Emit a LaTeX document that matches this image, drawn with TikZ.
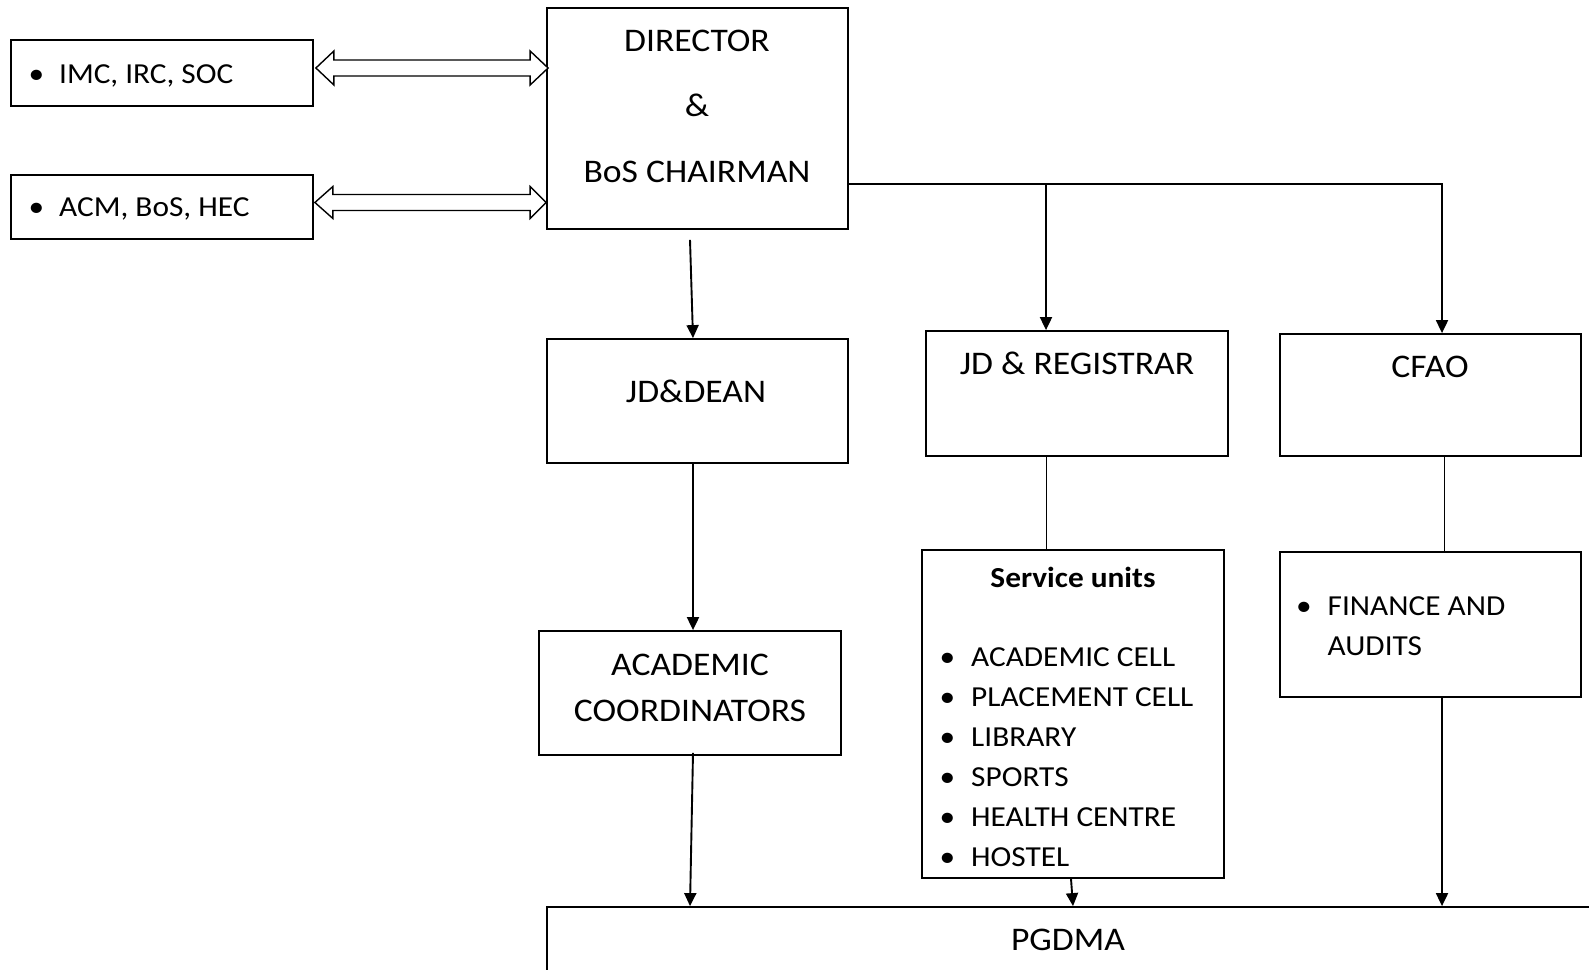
\documentclass[tikz,border=0pt]{standalone}
\usepackage{fontspec}
\setmainfont[FakeStretch=1.08]{Carlito}
\usetikzlibrary{arrows.meta,calc}
\begin{document}
\begin{tikzpicture}[x=1pt,y=-1pt,
  box/.style={draw, line width=1.8pt, rectangle, inner sep=0pt},
  ttl/.style={inner sep=0pt, anchor=base, font=\fontsize{33}{40}\selectfont},
  itm/.style={inner sep=0pt, anchor=base west, font=\fontsize{29}{35}\selectfont},
  bul/.style={inner sep=0pt, anchor=base, font=\fontsize{29}{35}\selectfont},
  conn/.style={line width=1.9pt, -{Triangle[length=13pt,width=12pt]}},
  link/.style={line width=1.9pt},
  thin/.style={line width=0.9pt},
  hollow/.style={draw, line width=1.4pt, fill=white, line join=miter}]
\clip (0,0) rectangle (1589,969);
\fill[white] (0,0) rectangle (1589,969);

% boxes
\node[box, minimum width=302, minimum height=66] (imc) at (162,73) {};
\node[box, minimum width=302, minimum height=64] (acm) at (162,207) {};
\node[box, minimum width=301, minimum height=221] (dir) at (697.5,118.5) {};
\node[box, minimum width=301, minimum height=124] (dean) at (697.5,401) {};
\node[box, minimum width=302, minimum height=124] (acad) at (690,693) {};
\node[box, minimum width=302, minimum height=125] (reg) at (1077,393.5) {};
\node[box, minimum width=301, minimum height=122] (cfao) at (1430.5,395) {};
\node[box, minimum width=302, minimum height=328] (serv) at (1073,714) {};
\node[box, minimum width=301, minimum height=145] (fin) at (1430.5,624.5) {};
\node[box, minimum width=1153, minimum height=143] (pgdma) at (1123.5,978.5) {};

% texts
\node[bul] (b1) at (36.5,83) {\textbullet};
\node[itm] (t1) at (59,83) {IMC, IRC, SOC};
\node[bul] (b2) at (36.5,216) {\textbullet};
\node[itm] (t2) at (59,216) {ACM, BoS, HEC};
\node[ttl] (d1) at (697,51) {DIRECTOR};
\node[ttl] (d2) at (697,116) {\&};
\node[ttl] (d3) at (697,182) {BoS CHAIRMAN};
\node[ttl] (dn) at (696,402) {JD\&DEAN};
\node[ttl] (ac1) at (690,675) {ACADEMIC};
\node[ttl] (ac2) at (690,721) {COORDINATORS};
\node[ttl] (rg) at (1077,374) {JD \& REGISTRAR};
\node[ttl] (cf) at (1430,377) {CFAO};
\node[ttl, font=\fontsize{29}{35}\selectfont\bfseries] (su) at (1073,587) {Service units};
\foreach \t [count=\i] in {ACADEMIC CELL, PLACEMENT CELL, LIBRARY, SPORTS, HEALTH CENTRE, HOSTEL}{
  \node[bul] (sb\i) at (947.5,{626+40*\i}) {\textbullet};
  \node[itm] (st\i) at (971,{626+40*\i}) {\t};
}
\node[bul] (fb) at (1304,615) {\textbullet};
\node[itm] (ft1) at (1327.5,615) {FINANCE AND};
\node[itm] (ft2) at (1327.5,655) {AUDITS};
\node[ttl] (pg) at (1068,950) {PGDMA};

% double arrows
\coordinate (L1) at ($(imc.east)+(2,-5)$);
\coordinate (R1) at ($(dir.west |- L1)+(2,0)$);
\draw[hollow] (L1) -- ++(18,-17) -- ++(0,9) -- ($(R1)+(-18,-8)$) -- ++(0,-9) -- (R1)
  -- ++(-18,17) -- ++(0,-9) -- ($(L1)+(18,8)$) -- ++(0,9) -- cycle;
\coordinate (L2) at ($(acm.east)+(1,-4.5)$);
\coordinate (R2) at ($(dir.west |- L2)+(0,0)$);
\draw[hollow] (L2) -- ++(18,-16) -- ++(0,8) -- ($(R2)+(-16,-8)$) -- ++(0,-8) -- (R2)
  -- ++(-16,16) -- ++(0,-8) -- ($(L2)+(18,8)$) -- ++(0,8) -- cycle;

% connectors
\draw[conn] ($(dir.south)+(-7.5,10)$) -- ($(dean.north)+(-4.5,0)$);
\draw[conn] ($(dean.south)+(-4.5,0)$) -- ($(acad.north)+(3,0)$);
\draw[conn] ($(acad.south)+(3,-3)$) -- ($(pgdma.north -| acad.south)$);
\draw[conn] ($(serv.south)+(-2,0)$) -- (pgdma.north -| serv.south);
\draw[conn] ($(fin.south)+(11.5,0)$) -- ($(pgdma.north -| fin.south)+(11.5,0)$);
\coordinate (j1) at ($(dir.east)+(0,65.5)$);
\coordinate (j2) at (reg.north |- j1);
\draw[link] (j1) -- ($(cfao.north |- j1)+(11.5,0)$);
\draw[conn] ($(cfao.north |- j1)+(11.5,-0.9)$) -- ($(cfao.north)+(11.5,0)$);
\draw[conn] ($(j2)+(-31,0)$) -- ($(reg.north)+(-31,0)$);
\draw[thin] ($(reg.south)+(-31,0)$) -- ($(serv.north)+(-27,0)$);
\draw[thin] ($(cfao.south)+(13.5,0)$) -- ($(fin.north)+(13.5,0)$);
\end{tikzpicture}
\end{document}
